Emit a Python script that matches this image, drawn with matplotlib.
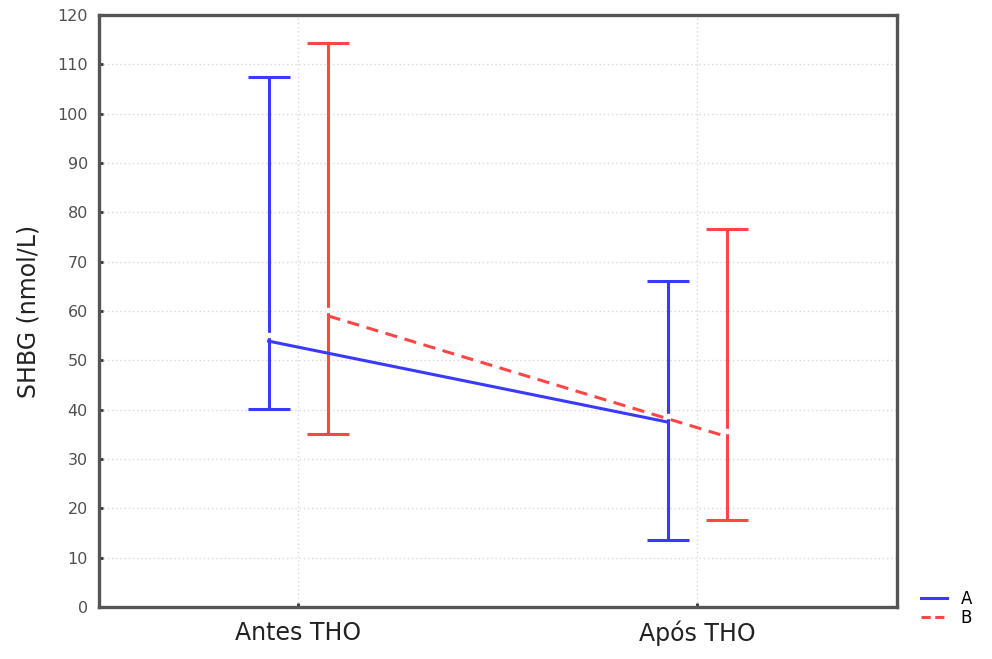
import matplotlib
matplotlib.use("Agg")
import matplotlib.pyplot as plt
from matplotlib.lines import Line2D
import numpy as np

categories = ["Antes THO", "Após THO"]
groups = ["A", "B"]
means_A = [53.9, 37.5]
lower_A = [40.1, 13.6]
upper_A = [107.4, 66.1]
means_B = [59.0, 34.5]
lower_B = [35.1, 17.6]
upper_B = [114.3, 76.6]
yticks = list(range(0, 121, 10))

plt.rcParams['font.family'] = ['DejaVu Sans']

fig = plt.figure(figsize=(9.92, 6.59), dpi=100)
ax = fig.add_axes([0.0998, 0.079, 0.8044, 0.898])

x = np.arange(len(categories))
off = 0.075
blue = '#3a3aff'
red = '#ff4646'

series = [
    (means_A, lower_A, upper_A, blue, '-', -off),
    (means_B, lower_B, upper_B, red, (0, (4, 2.5)), off),
]
for m, lo, hi, col, ls, dx in series:
    m = np.array(m); lo = np.array(lo); hi = np.array(hi)
    xs = x + dx
    ax.errorbar(xs, m, yerr=[m - lo, hi - m], fmt='none', ecolor=col,
                elinewidth=2.2, capsize=15, capthick=2.2, zorder=3)
    ax.plot(xs, m, color=col, linestyle=ls, linewidth=2.2, zorder=4)
    ax.plot(xs, m + 1.2, linestyle='none', marker='s', markersize=3,
            markerfacecolor='white', markeredgecolor='white', zorder=5)

ax.set_xlim(-0.5, 1.5)
ax.set_ylim(0, 120)
ax.set_yticks(yticks)
ax.set_xticks(x)
ax.set_xticklabels(categories, fontsize=17, color='#222222')
ax.tick_params(axis='y', labelsize=11.5, labelcolor='#505050', direction='in',
               length=3, width=2, color='#333333', pad=8)
ax.tick_params(axis='x', direction='in', length=3, width=2, color='#333333', pad=10)
ax.set_ylabel("SHBG (nmol/L)", fontsize=17, color='#222222', labelpad=12)

ax.grid(True, linestyle=(0, (1, 2)), color='#d8d8d8', linewidth=1)
ax.set_axisbelow(True)
for s in ax.spines.values():
    s.set_linewidth(2.4)
    s.set_color('#555555')

handles = [Line2D([0], [0], color=blue, lw=2.2, ls='-'),
           Line2D([0], [0], color=red, lw=2.2, ls=(0, (3, 1.5)))]
fig.legend(handles, groups, loc='center left', bbox_to_anchor=(0.918, 0.077),
           frameon=False, fontsize=12, handlelength=1.6, handletextpad=0.8,
           labelspacing=0.05, borderpad=0.1)

fig.savefig("out.png", dpi=100)
